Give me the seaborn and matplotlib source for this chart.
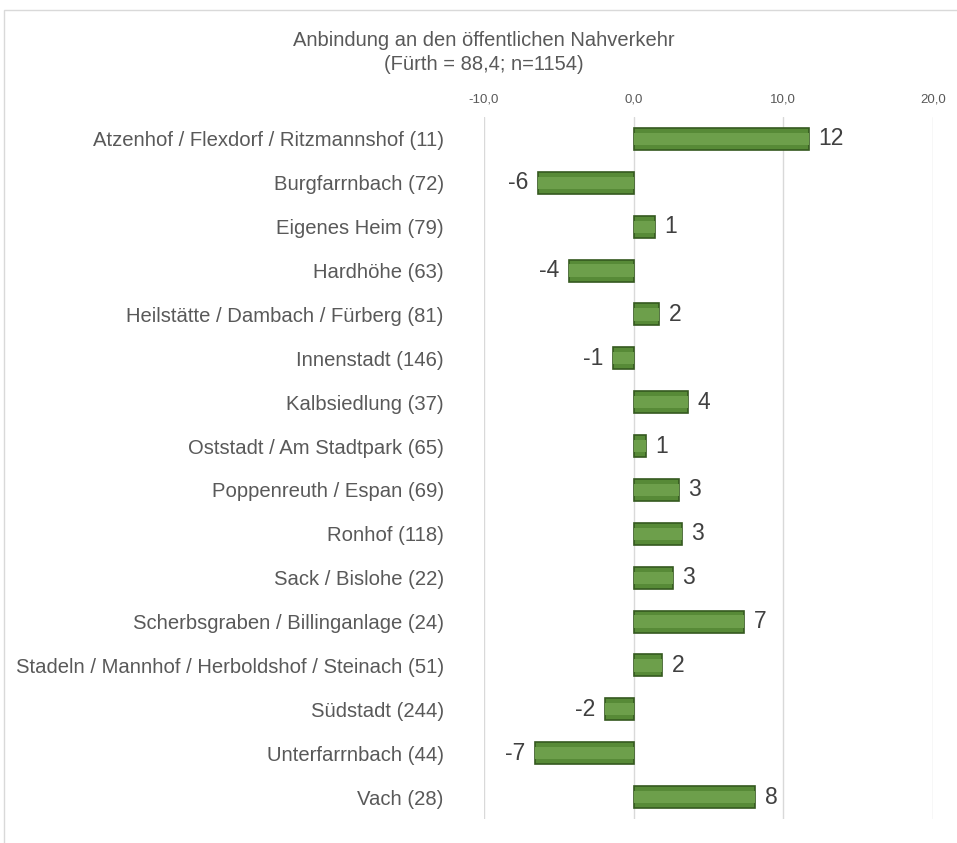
import matplotlib
matplotlib.use("Agg")
import matplotlib.pyplot as plt
import seaborn as sns
import pandas as pd
from matplotlib.patches import Rectangle

categories = [
    "Atzenhof / Flexdorf / Ritzmannshof (11)",
    "Burgfarrnbach (72)",
    "Eigenes Heim (79)",
    "Hardhöhe (63)",
    "Heilstätte / Dambach / Fürberg (81)",
    "Innenstadt (146)",
    "Kalbsiedlung (37)",
    "Oststadt / Am Stadtpark (65)",
    "Poppenreuth / Espan (69)",
    "Ronhof (118)",
    "Sack / Bislohe (22)",
    "Scherbsgraben / Billinganlage (24)",
    "Stadeln / Mannhof / Herboldshof / Steinach (51)",
    "Südstadt (244)",
    "Unterfarrnbach (44)",
    "Vach (28)",
]
values = [11.7, -6.4, 1.4, -4.3, 1.7, -1.4, 3.6, 0.8, 3.0, 3.2, 2.6, 7.4, 1.9, -1.9, -6.6, 8.1]
xticks = [-10, 0, 10, 20]
title_lines = ["Anbindung an den öffentlichen Nahverkehr", "(Fürth = 88,4; n=1154)"]

df = pd.DataFrame({"cat": categories, "val": values})

sns.set_theme(style="white")
plt.rcParams["font.family"] = ["Liberation Sans", "DejaVu Sans"]

W, H = 957, 843
fig = plt.figure(figsize=(W / 100, H / 100), dpi=100)
ax = fig.add_axes([484 / W, 1 - 819 / H, (933 - 484) / W, (819 - 117) / H])

# chart frame
fig.patches.append(Rectangle((4 / W, -0.01), 1.0, 1 - 10 / H + 0.01,
                             transform=fig.transFigure, fill=False,
                             edgecolor="#d9d9d9", linewidth=1.0))

for x in xticks:
    ax.axvline(x, color="#d9d9d9", linewidth=1.0, zorder=0)

sns.barplot(data=df, x="val", y="cat", orient="h", color="#578a37",
            saturation=1, width=0.5, edgecolor="#35591f", linewidth=1.2,
            ax=ax, zorder=2)
# bevel highlight
sns.barplot(data=df, x="val", y="cat", orient="h", color="#6d9f4b",
            saturation=1, width=0.28, linewidth=0, ax=ax, zorder=3)

ax.set_xlim(-10, 20)
ax.set_ylim(len(categories) - 0.5, -0.5)
ax.set_xticks(xticks)
ax.set_xticklabels([f"{t:.1f}".replace(".", ",") for t in xticks],
                   fontsize=9.5, color="#595959")
ax.xaxis.tick_top()
ax.tick_params(axis="x", length=0, pad=8)
ax.tick_params(axis="y", length=0, pad=29)
ax.set_yticks(range(len(categories)))
ax.set_yticklabels(categories, fontsize=14.6, color="#595959")
ax.set_xlabel("")
ax.set_ylabel("")
for s in ax.spines.values():
    s.set_visible(False)
ax.set_facecolor("none")

for i, v in enumerate(values):
    lbl = f"{round(v):d}"
    if v >= 0:
        ax.annotate(lbl, (v, i), xytext=(7, 0), textcoords="offset points",
                    ha="left", va="center", fontsize=16.5, color="#404040")
    else:
        ax.annotate(lbl, (v, i), xytext=(-7, 0), textcoords="offset points",
                    ha="right", va="center", fontsize=16.5, color="#404040")

fig.text(484 / W, 1 - 41 / H, title_lines[0], ha="center", va="center",
         fontsize=14.5, color="#595959")
fig.text(484 / W, 1 - 64 / H, title_lines[1], ha="center", va="center",
         fontsize=14.5, color="#595959")

fig.savefig("out.png", dpi=100)
